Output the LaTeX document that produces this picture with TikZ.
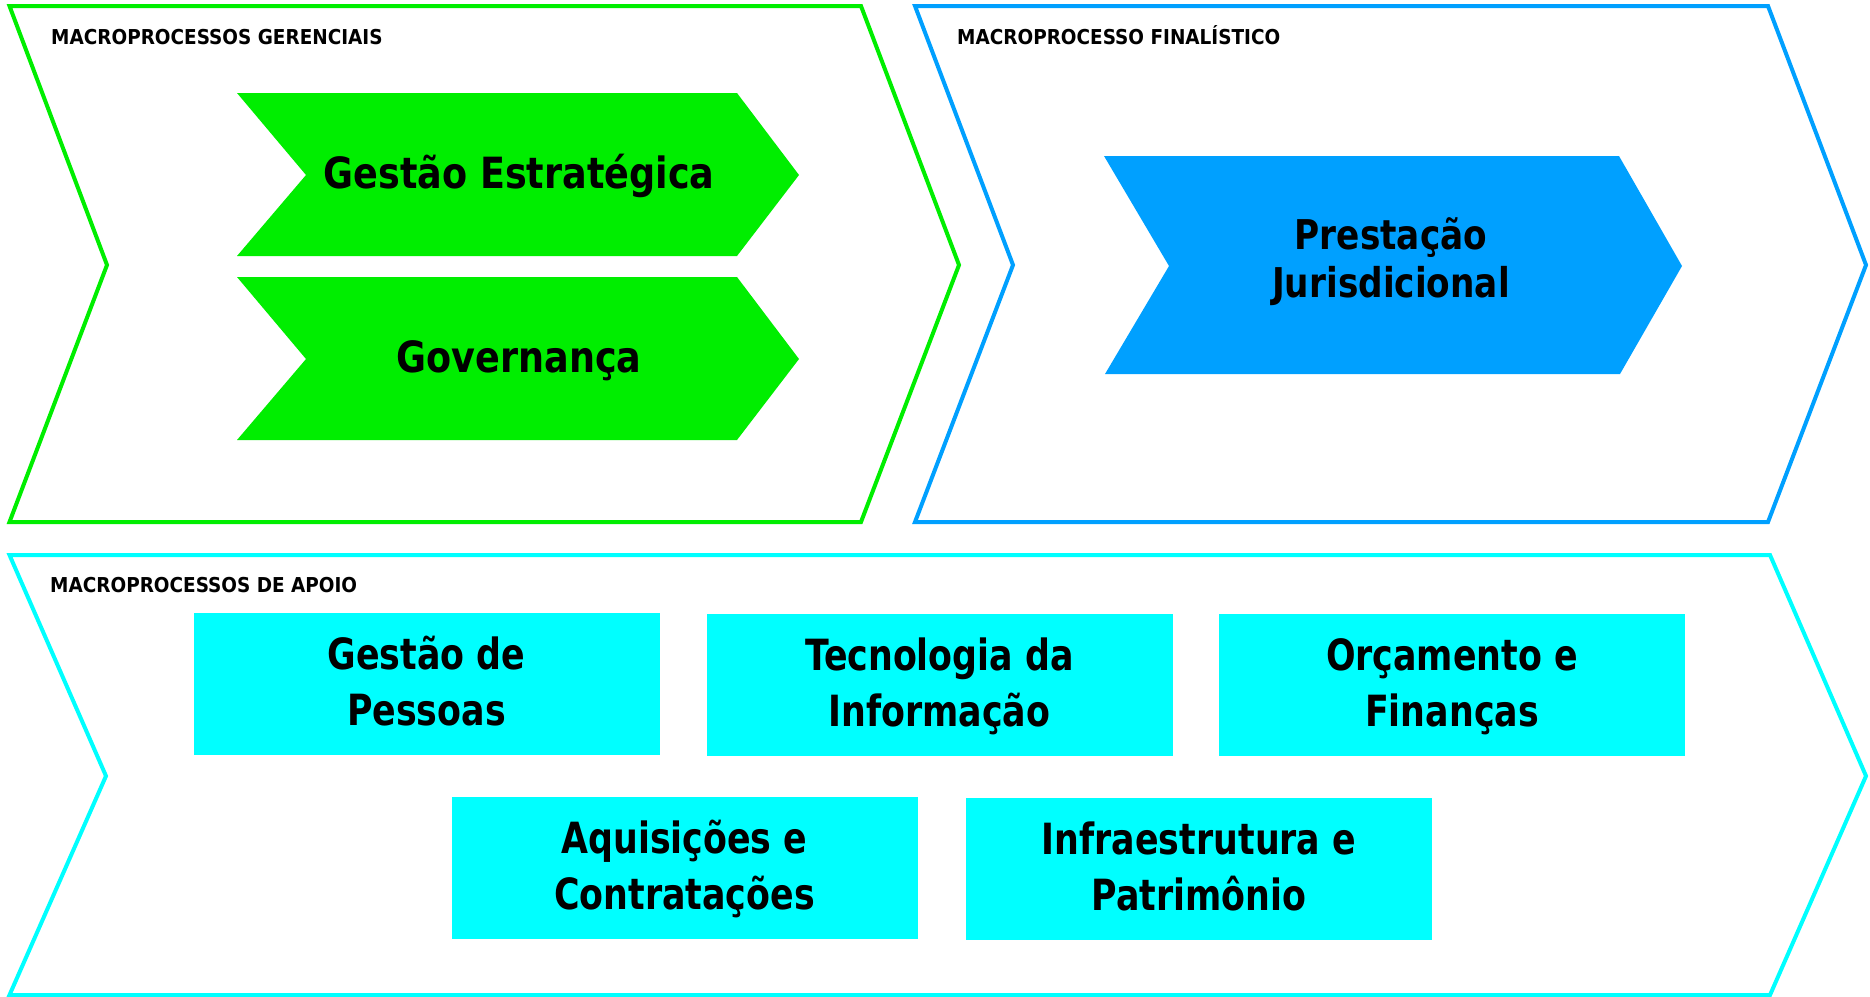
\documentclass[tikz,border=0pt]{standalone}
\usepackage{fontspec}
\newfontfamily\cbf{DejaVu Sans Condensed Bold}
\newfontfamily\cbfbox{DejaVu Sans Condensed Bold}[FakeStretch=0.9]
\newfontfamily\cbfgr{DejaVu Sans Condensed Bold}[FakeStretch=0.945]
\newfontfamily\cbfpj{DejaVu Sans Condensed Bold}[FakeStretch=0.93]
\newcommand{\ls}{\rule[-0.2em]{0pt}{1.05em}}
\definecolor{gerencial}{RGB}{0,238,0}
\definecolor{finalist}{RGB}{0,160,255}
\definecolor{apoio}{RGB}{0,255,255}
\begin{document}
\begin{tikzpicture}[x=1pt,y=-1pt,
  outer/.style={line width=4pt, fill=white, line join=miter},
  hdr/.style={anchor=base west, inner sep=0pt, font=\cbf\fontsize{20.5}{24}\selectfont},
  big/.style={inner sep=0pt, align=center, font=\cbfgr\fontsize{43}{56}\selectfont},
  apbox/.style={big, font=\cbfbox\fontsize{43}{56}\selectfont, fill=apoio, minimum width=466pt, minimum height=142pt}
]
\useasboundingbox (0,0) rectangle (1870,996);
\fill[white] (0,0) rectangle (1870,996);
% outer chevrons
\draw[outer, draw=gerencial] (9.5,6) -- (861,6) -- (959,265) -- (861,522) -- (9.5,522) -- (107,265) -- cycle;
\draw[outer, draw=finalist] (915,6) -- (1768,6) -- (1866,265) -- (1768,522) -- (915,522) -- (1013,265) -- cycle;
\draw[outer, draw=apoio] (9.5,555) -- (1770,555) -- (1866,776) -- (1770,995) -- (9.5,995) -- (106,776) -- cycle;
% inner chevrons
\fill[gerencial] (237,93) -- (737,93) -- (799,175) -- (737,256) -- (237,256) -- (306,175) -- cycle;
\fill[gerencial] (237,277) -- (737,277) -- (799,359) -- (737,440) -- (237,440) -- (306,359) -- cycle;
\fill[finalist] (1104,156) -- (1619,156) -- (1682,266) -- (1620,374) -- (1105,374) -- (1169,266) -- cycle;
% headers
\node[hdr] (hg) at (51,44) {MACROPROCESSOS GERENCIAIS};
\node[hdr] (hf) at (957,44) {MACROPROCESSO FINALÍSTICO};
\node[hdr] (ha) at (50,592) {MACROPROCESSOS DE APOIO};
% chevron texts
\node[big] (ge) at (519,174.5) {\ls Gestão Estratégica};
\node[big] (gov) at (519,358.5) {\ls Governança};
\node[big, font=\cbfpj\fontsize{41}{48}\selectfont] (pj) at (1391,259.7) {\ls Prestação\\\ls Jurisdicional};
% support boxes
\node[apbox] (gp) at (426.5,684) {\ls Gestão de\\\ls Pessoas};
\node[apbox] (ti) at (939.5,684.5) {\ls Tecnologia da\\\ls Informação};
\node[apbox] (of) at (1452,685) {\ls Orçamento e\\\ls Finanças};
\node[apbox] (ac) at (684.5,868) {\ls Aquisições e\\\ls Contratações};
\node[apbox] (ip) at (1199,869) {\ls Infraestrutura e\\\ls Patrimônio};
\end{tikzpicture}
\end{document}
